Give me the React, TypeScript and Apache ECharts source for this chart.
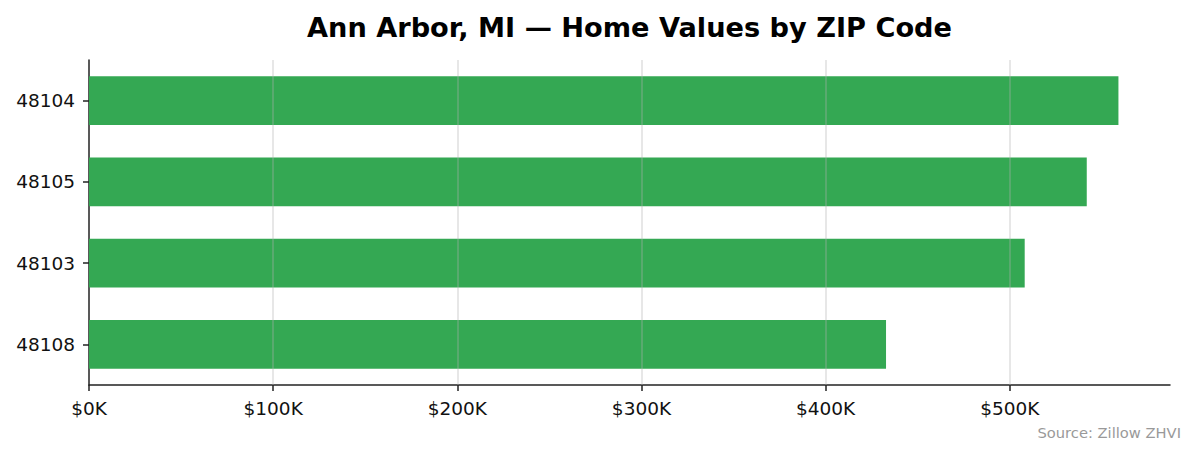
import React, { useEffect, useRef } from "react";
import * as echarts from "echarts";

const zipCodes = ["48104", "48105", "48103", "48108"];
const homeValues = [559000, 541800, 508100, 432800];
const tickValues = [0, 100000, 200000, 300000, 400000, 500000];
const axisMax = 587000;
const titleText = "Ann Arbor, MI — Home Values by ZIP Code";
const sourceText = "Source: Zillow ZHVI";

const FONT = "DejaVu Sans";

export default function App() {
  const ref = useRef<HTMLDivElement>(null);
  useEffect(() => {
    if (!ref.current) return;
    const chart = echarts.init(ref.current, null, { renderer: "svg" });
    chart.setOption({
      animation: false,
      backgroundColor: "#ffffff",
      textStyle: { fontFamily: FONT },
      grid: { left: 89, right: 25, top: 60, bottom: 70, containLabel: false },
      xAxis: {
        type: "value",
        min: 0,
        max: axisMax,
        interval: 100000,
        axisLine: { show: true, lineStyle: { color: "#222222", width: 1.5 } },
        axisTick: { show: true, length: 6, lineStyle: { color: "#222222", width: 1.5 }, customValues: tickValues },
        axisLabel: {
          customValues: tickValues,
          margin: 14,
          color: "#111111",
          fontSize: 18.5,
          fontFamily: FONT,
          formatter: (v: number) => `$${Math.round(v / 1000)}K`,
        },
        splitLine: { show: false },
      },
      yAxis: {
        type: "category",
        data: zipCodes,
        inverse: true,
        axisLine: { show: true, lineStyle: { color: "#222222", width: 1.5 } },
        axisTick: { show: true, length: 6, alignWithLabel: true, lineStyle: { color: "#222222", width: 1.5 } },
        axisLabel: { margin: 14, color: "#111111", fontSize: 18.5, fontFamily: FONT },
        splitLine: { show: false },
      },
      series: [
        {
          type: "bar",
          data: homeValues,
          barWidth: "60%",
          itemStyle: { color: "#34a853" },
          silent: true,
          markLine: {
            silent: true,
            symbol: "none",
            label: { show: false },
            lineStyle: { color: "rgba(176,176,176,0.3)", width: 2, type: "solid" },
            data: tickValues.filter((v) => v > 0).map((v) => ({ xAxis: v })),
          },
        },
      ],
      graphic: [
        {
          type: "text",
          x: 629.5,
          y: 27,
          style: {
            text: titleText,
            fontFamily: FONT,
            fontWeight: "bold",
            fontSize: 27.2,
            fill: "#000000",
            textAlign: "center",
            textVerticalAlign: "middle",
          },
        },
        {
          type: "text",
          x: 1181,
          y: 432,
          style: {
            text: sourceText,
            fontFamily: FONT,
            fontSize: 14.7,
            fill: "#999999",
            textAlign: "right",
            textVerticalAlign: "middle",
          },
        },
      ],
    });
    return () => chart.dispose();
  }, []);
  return (
    <div
      ref={ref}
      style={{ position: "fixed", left: 0, top: 0, width: 1195, height: 455 }}
    />
  );
}
